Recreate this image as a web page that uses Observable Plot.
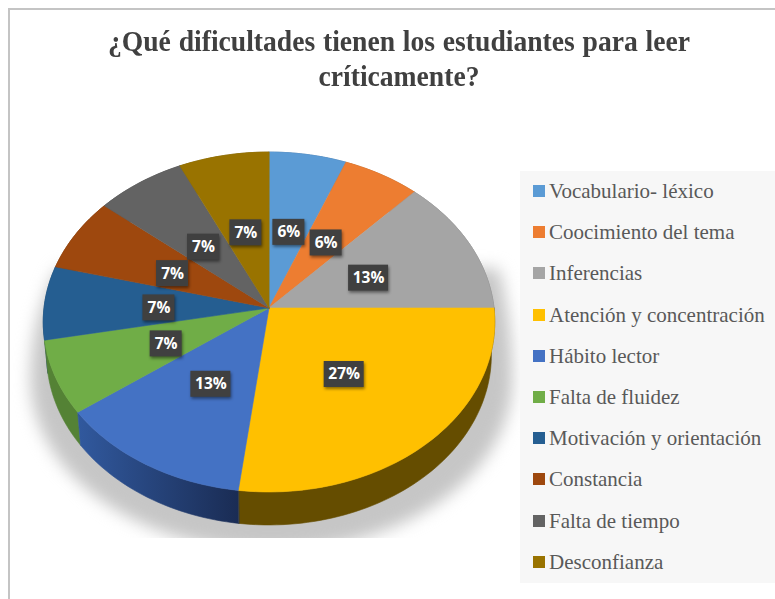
<!DOCTYPE html>
<html lang="es">
<head>
<meta charset="utf-8">
<script src="https://cdn.jsdelivr.net/npm/d3@7"></script>
<script src="https://cdn.jsdelivr.net/npm/@observablehq/plot@0.6"></script>
<style>
  html, body { margin: 0; padding: 0; background: #fff; }
  #chart { position: relative; width: 775px; height: 599px; overflow: hidden; }
  #frame { position: absolute; left: 8px; top: 8px; right: -4px; bottom: -4px; border: 2px solid #c4c4c4; }
  #chart svg { position: absolute; left: 0; top: 0; }
  #title { position: absolute; left: 9px; width: 780px; top: 23px; text-align: center;
    font: bold 30px/35px "Liberation Serif", serif; word-spacing: 1px; color: #404040; transform: scaleX(0.92); transform-origin: 50% 50%; white-space: nowrap; }
  #legend { position: absolute; left: 520px; top: 171px; width: 255px; height: 412px; background: #f7f7f7;
    font: 21px "Liberation Serif", serif; color: #595959; }
  #legend .row { position: absolute; left: 13px; height: 24px; line-height: 24px; white-space: nowrap; }
  #legend .sw { position: absolute; left: 0; top: 6px; width: 12px; height: 12px; }
  #legend .tx { position: absolute; left: 16px; top: 0; }
  .shadow { filter: blur(8px); }
  .tag { filter: drop-shadow(1.5px 2px 1.5px rgba(0,0,0,.45)); }
</style>
</head>
<body>
<div id="chart"></div>
<script>
const titleLines = ["¿Qué dificultades tienen los estudiantes para leer", "críticamente?"];
const categories = ["Vocabulario- léxico","Coocimiento del tema","Inferencias","Atención y concentración","Hábito lector","Falta de fluidez","Motivación y orientación","Constancia","Falta de tiempo","Desconfianza"];
const values = [6,6,13,27,13,7,7,7,7,7];
const colors = ["#5b9bd5","#ed7d31","#a5a5a5","#ffc000","#4472c4","#70ad47","#255e91","#9e480e","#636363","#997300"];
const sideFills = ["#3c6d9c","#a65b24","#7a7a7a","#654d00","url(#sideBlue)","#548235","#1c466c","#763609","#4a4a4a","#725600"];

// view of the tilted disc
const W = 775, H = 599, cx = 268.5, cy = 307.5, A = 225, B = 168.8, tilt = 0.0824;
const depth = 33 / B, shrink = 0.985, labelR = 0.49;
const total = d3.sum(values);
function project(frac, r = 1) {
  const t = 2 * Math.PI * frac, X = r * Math.sin(t), Y = r * Math.cos(t), w = 1 + tilt * Y;
  return {x: X / w, y: Y / w};
}
function arc(f0, f1) {
  const n = Math.max(2, Math.ceil((f1 - f0) * 240));
  return d3.range(n + 1).map(i => project(f0 + (f1 - f0) * i / n));
}
let run = 0;
const slices = values.map((v, i) => {
  const s = {i, name: categories[i], value: v, f0: run / total, f1: (run + v) / total};
  run += v;
  s.mid = (s.f0 + s.f1) / 2;
  return s;
});
const faces = slices.map(s => [{x: 0, y: 0}, ...arc(s.f0, s.f1)]);
const walls = slices.map(s => {
  const a = arc(s.f0, s.f1);
  return [...a, ...a.slice().reverse().map(p => ({x: p.x * shrink, y: p.y - depth}))];
});
const wallOrder = d3.sort(slices, s => -project(s.mid).y);

// soft floor shadow: rounded below, tapering behind the pie above
const shX = 271, shY = 378, shRx = 241, shDown = 172, shTop = 268;
const shadowPts = d3.range(181).map(i => {
  const t = i / 180 * 2 * Math.PI, c = Math.cos(t), s = Math.sin(t);
  const ry = s > 0 ? shDown : (c < 0 ? 240 : 330);
  return {x: (shX + shRx * c - cx) / A, y: (cy - Math.max(shTop, shY + ry * s)) / B};
});
const labels = slices.map(s => ({...project(s.mid, labelR), text: s.value + "%", wide: s.value >= 10}));
const xDom = [-cx / A, (W - cx) / A], yDom = [(cy - H) / B, cy / B];
const boxW = d => (d.wide ? 40 : 32) / 2 / A, boxH = 13 / B;
const nudge = 2.5 / B;

const defs = () => {
  const d = d3.create("svg:defs");
  const g = d.append("linearGradient").attr("id", "sideBlue");
  g.append("stop").attr("offset", "0").attr("stop-color", "#31599e");
  g.append("stop").attr("offset", "1").attr("stop-color", "#1a2c54");
  return d.node();
};
const poly = (pts, fill) => Plot.line(pts, {x: "x", y: "y", fill, stroke: fill, strokeWidth: 0.6, curve: "linear-closed"});

const plot = Plot.plot({
  width: W, height: H, margin: 0,
  x: {domain: xDom, axis: null},
  y: {domain: yDom, axis: null},
  style: {background: "transparent"},
  marks: [
    defs,
    Plot.line(shadowPts, {x: "x", y: "y", fill: "#c6c6c6", stroke: "none", curve: "linear-closed", className: "shadow"}),
    Plot.rect([0], {x1: xDom[0], x2: xDom[1], y1: yDom[0], y2: (cy - 538) / B, fill: "white"}),
    ...wallOrder.map(s => poly(walls[s.i], sideFills[s.i])),
    ...faces.map((f, i) => poly(f, colors[i])),
    Plot.rect(labels, {
      x1: d => d.x - boxW(d), x2: d => d.x + boxW(d),
      y1: d => d.y - nudge - boxH, y2: d => d.y - nudge + boxH,
      fill: "#404040", className: "tag"
    }),
    Plot.text(labels, {x: "x", y: d => d.y - nudge, text: "text", fill: "white", fontSize: 15.5, fontWeight: 700, fontFamily: "'Open Sans', sans-serif"})
  ]
});
const chart = document.getElementById("chart");
chart.appendChild(plot);

const frame = document.createElement("div");
frame.id = "frame";
chart.appendChild(frame);

const title = document.createElement("div");
title.id = "title";
title.innerHTML = titleLines.join("<br>");
chart.appendChild(title);

const legend = document.createElement("div");
legend.id = "legend";
categories.forEach((c, i) => {
  const row = document.createElement("div");
  row.className = "row";
  row.style.top = (8 + i * 41.2) + "px";
  const sw = document.createElement("span");
  sw.className = "sw"; sw.style.background = colors[i];
  const tx = document.createElement("span");
  tx.className = "tx"; tx.textContent = c;
  row.append(sw, tx);
  legend.appendChild(row);
});
chart.appendChild(legend);
</script>
</body>
</html>
